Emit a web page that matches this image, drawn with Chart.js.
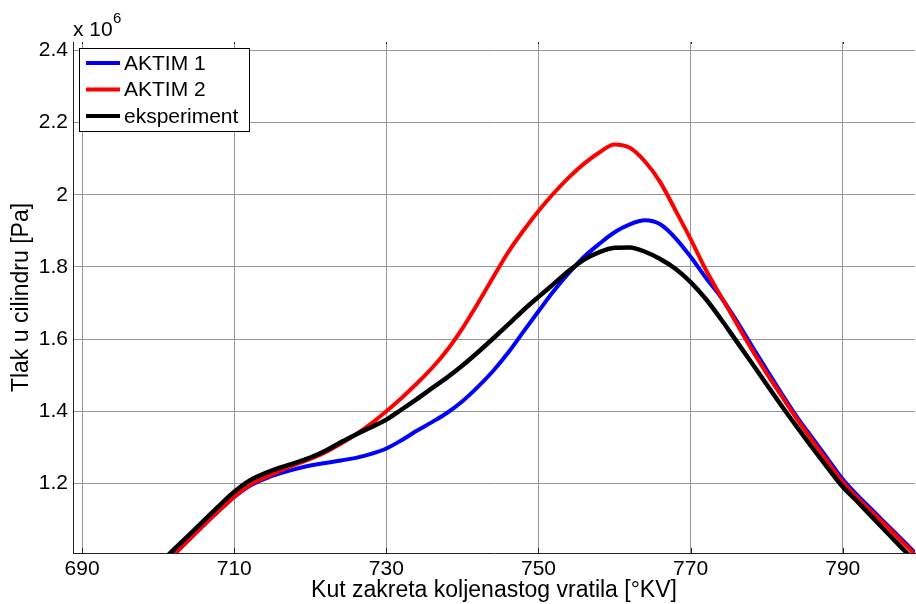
<!DOCTYPE html>
<html>
<head>
<meta charset="utf-8">
<script src="https://cdn.jsdelivr.net/npm/chart.js@4.4.1/dist/chart.umd.min.js"></script>
<style>
    body { margin: 0; background: #fff; }
    #wrap { width: 916px; height: 604px; }
</style>
</head>
<body>
<div id="wrap"><canvas id="tlak" width="916" height="604"></canvas></div>
<script>
"use strict"

// kut zakreta [°KV]
const angle = [700, 702, 704, 706, 708, 710, 712, 714, 716, 718, 720, 722, 724, 726, 728, 730, 732, 734, 736, 738,
    740, 742, 744, 746, 748, 750, 752, 754, 756, 758, 760, 762, 764, 766, 768, 770, 772, 774, 776, 778,
    780, 782, 784, 786, 788, 790, 792, 794, 796, 798, 800]

// tlak u cilindru [x 10^6 Pa]
const aktim1 = [0.961, 1.002, 1.043, 1.085, 1.125, 1.163, 1.193, 1.213, 1.228, 1.240, 1.250, 1.257, 1.264, 1.271, 1.282, 1.297, 1.320, 1.346, 1.370, 1.396,
    1.428, 1.467, 1.511, 1.562, 1.620, 1.677, 1.733, 1.783, 1.828, 1.864, 1.896, 1.918, 1.929, 1.918, 1.880, 1.828, 1.770, 1.716, 1.652, 1.583,
    1.515, 1.448, 1.384, 1.326, 1.269, 1.212, 1.166, 1.124, 1.082, 1.040, 0.997]

const aktim2 = [0.961, 1.002, 1.043, 1.085, 1.125, 1.163, 1.195, 1.216, 1.235, 1.252, 1.268, 1.287, 1.310, 1.336, 1.366, 1.400, 1.437, 1.477, 1.520, 1.570,
    1.630, 1.698, 1.770, 1.840, 1.900, 1.955, 2.004, 2.048, 2.086, 2.117, 2.139, 2.130, 2.092, 2.035, 1.957, 1.877, 1.792, 1.718, 1.645, 1.573,
    1.505, 1.441, 1.378, 1.319, 1.261, 1.204, 1.159, 1.118, 1.077, 1.035, 0.993]

const eksperiment = [0.975, 1.016, 1.056, 1.097, 1.138, 1.177, 1.208, 1.228, 1.244, 1.257, 1.272, 1.291, 1.314, 1.336, 1.356, 1.377, 1.405, 1.434, 1.464, 1.494,
    1.527, 1.563, 1.601, 1.640, 1.680, 1.717, 1.753, 1.789, 1.820, 1.841, 1.853, 1.854, 1.842, 1.822, 1.795, 1.758, 1.711, 1.655, 1.595, 1.535,
    1.474, 1.414, 1.356, 1.299, 1.244, 1.191, 1.148, 1.104, 1.060, 1.017, 0.973]

const xTicks = [690, 710, 730, 750, 770, 790]
const yTicks = [1.2, 1.4, 1.6, 1.8, 2.0, 2.2, 2.4]

const to_points = (ys) => angle.map((x, i) => ({ x: x, y: ys[i] }))

const FONT = "'Liberation Sans', Arial, sans-serif"
Chart.defaults.font.family = FONT
Chart.defaults.font.size = 21
Chart.defaults.color = '#000'

// legenda u gornjem lijevom kutu + "x 10^6" + kratke crtice na osima
const matlab_bits = {
    id: 'matlab_bits',
    afterDatasetsDraw(chart) {
        const ctx = chart.ctx
        const area = chart.chartArea
        const xs = chart.scales.x
        ctx.save()

        ctx.strokeStyle = '#222'
        ctx.lineWidth = 1
        xTicks.forEach(v => {
            const px = Math.round(xs.getPixelForValue(v)) + 0.5
            ctx.beginPath()
            ctx.moveTo(px, area.bottom)
            ctx.lineTo(px, area.bottom - 5)
            ctx.moveTo(px, area.top)
            ctx.lineTo(px, area.top + 2)
            ctx.stroke()
        })

        ctx.fillStyle = '#000'
        ctx.textBaseline = 'alphabetic'
        ctx.textAlign = 'left'
        ctx.font = `21px ${FONT}`
        ctx.fillText('x 10', area.left, area.top - 6)
        ctx.font = `15px ${FONT}`
        ctx.fillText('6', area.left + 40, area.top - 19)

        // legenda
        const lx = area.left + 6
        const ly = area.top + 6
        ctx.fillStyle = '#fff'
        ctx.fillRect(lx, ly, 170, 83)
        ctx.strokeStyle = '#000'
        ctx.strokeRect(lx + 0.5, ly + 0.5, 170, 83)
        ctx.font = `21px ${FONT}`
        ctx.textBaseline = 'middle'
        chart.data.datasets.forEach((ds, i) => {
            const y = ly + 15 + i * 26.5
            ctx.strokeStyle = ds.borderColor
            ctx.lineWidth = 4
            ctx.beginPath()
            ctx.moveTo(lx + 7, y)
            ctx.lineTo(lx + 41, y)
            ctx.stroke()
            ctx.fillStyle = '#000'
            ctx.fillText(ds.label, lx + 45, y + 1)
        })
        ctx.restore()
    }
}

new Chart(document.getElementById('tlak').getContext('2d'), {
    type: 'line',
    data: {
        datasets: [
            { label: 'AKTIM 1', data: to_points(aktim1), borderColor: '#0000ff', borderWidth: 4, order: 2 },
            { label: 'AKTIM 2', data: to_points(aktim2), borderColor: '#ff0000', borderWidth: 4, order: 1 },
            { label: 'eksperiment', data: to_points(eksperiment), borderColor: '#000000', borderWidth: 4.5, order: 0 }
        ]
    },
    options: {
        responsive: false,
        animation: false,
        devicePixelRatio: 1,
        layout: { padding: { top: 42, right: 1, left: 0, bottom: 0 } },
        elements: {
            point: { radius: 0 },
            line: { cubicInterpolationMode: 'monotone', fill: false }
        },
        datasets: { line: { clip: 0 } },
        plugins: {
            legend: { display: false },
            tooltip: { enabled: false }
        },
        scales: {
            x: {
                type: 'linear',
                min: 688.8,
                max: 799.5,
                afterBuildTicks: (s) => { s.ticks = xTicks.map(v => ({ value: v })) },
                afterFit: (s) => { s.height = 51 },
                ticks: { padding: 4, maxRotation: 0, autoSkip: false, callback: (v) => String(v) },
                grid: { color: '#959595', lineWidth: 1, drawTicks: false },
                border: { display: true, color: '#222', width: 1 },
                title: {
                    display: true,
                    text: 'Kut zakreta koljenastog vratila [°KV]',
                    font: { size: 23 },
                    padding: { top: 0, bottom: 0 }
                }
            },
            y: {
                type: 'linear',
                min: 1.0075,
                max: 2.423,
                afterBuildTicks: (s) => { s.ticks = yTicks.map(v => ({ value: v })) },
                afterFit: (s) => { s.width = 73 },
                ticks: { padding: 5, callback: (v) => String(Number(v.toFixed(1))) },
                grid: { color: '#959595', lineWidth: 1, drawTicks: false },
                border: { display: true, color: '#222', width: 1 },
                title: {
                    display: true,
                    text: 'Tlak u cilindru [Pa]',
                    font: { size: 23 },
                    padding: { top: 8, bottom: 0 }
                }
            }
        }
    },
    plugins: [matlab_bits]
})
</script>
</body>
</html>
